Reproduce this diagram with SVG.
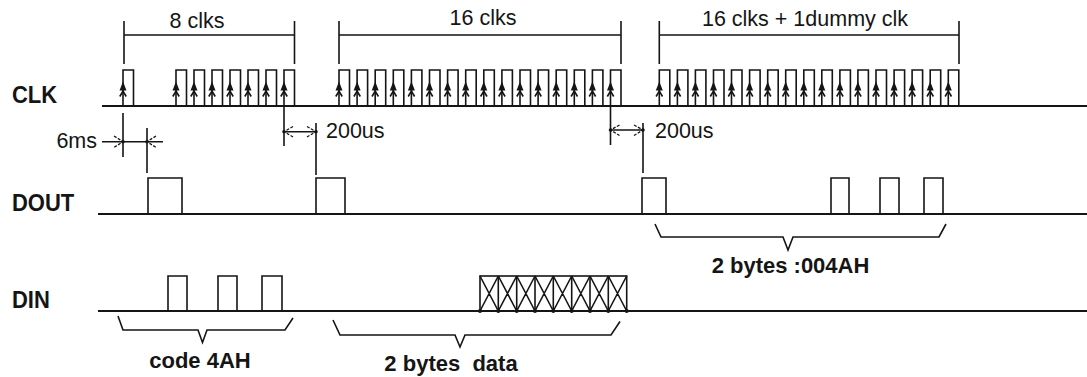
<svg xmlns="http://www.w3.org/2000/svg" xmlns:xlink="http://www.w3.org/1999/xlink" width="1087" height="377" viewBox="0 0 1087 377">
<style>
.ln{stroke:#151515;fill:none;stroke-width:1.6}
.base{stroke:#151515;fill:none;stroke-width:2}
.dash{stroke:#151515;fill:none;stroke-width:1.3;stroke-dasharray:3 1.5}
.t{font-family:"Liberation Sans",Arial,sans-serif;font-size:21.5px;fill:#151515}
.b{font-family:"Liberation Sans",Arial,sans-serif;font-size:22px;font-weight:bold;fill:#151515}
.dot{fill:#151515}
</style>
<defs>
<g id="clk">
<path class="ln" d="M0,36 V0 H10.5 V36"/>
<path d="M0,11.5 L-3.5,20.5 L3.5,20.5 Z" fill="#151515"/>
<path class="ln" stroke-width="1.3" d="M-3.2,26.5 L0,21 L3.2,26.5"/>
</g>
</defs>
<rect width="1087" height="377" fill="#ffffff"/>

<g id="labels">
<text class="b" x="12" y="103" transform="translate(12,103) scale(1,1.1) translate(-12,-103)">CLK</text>
<text class="b" x="12" y="211" transform="translate(12,211) scale(1,1.1) translate(-12,-211)">DOUT</text>
<text class="b" x="12" y="308" transform="translate(12,308) scale(1,1.1) translate(-12,-308)">DIN</text>
</g>

<g id="clk-signal">
<line class="base" x1="102" y1="106" x2="1087" y2="106"/>
<use xlink:href="#clk" x="123" y="70"/>
<use xlink:href="#clk" x="176" y="70"/>
<use xlink:href="#clk" x="194" y="70"/>
<use xlink:href="#clk" x="212" y="70"/>
<use xlink:href="#clk" x="230" y="70"/>
<use xlink:href="#clk" x="248" y="70"/>
<use xlink:href="#clk" x="266" y="70"/>
<use xlink:href="#clk" x="284" y="70"/>
<use xlink:href="#clk" x="339" y="70"/>
<use xlink:href="#clk" x="357.1" y="70"/>
<use xlink:href="#clk" x="375.2" y="70"/>
<use xlink:href="#clk" x="393.3" y="70"/>
<use xlink:href="#clk" x="411.4" y="70"/>
<use xlink:href="#clk" x="429.5" y="70"/>
<use xlink:href="#clk" x="447.6" y="70"/>
<use xlink:href="#clk" x="465.7" y="70"/>
<use xlink:href="#clk" x="483.8" y="70"/>
<use xlink:href="#clk" x="501.9" y="70"/>
<use xlink:href="#clk" x="520" y="70"/>
<use xlink:href="#clk" x="538.1" y="70"/>
<use xlink:href="#clk" x="556.2" y="70"/>
<use xlink:href="#clk" x="574.3" y="70"/>
<use xlink:href="#clk" x="592.4" y="70"/>
<use xlink:href="#clk" x="610.5" y="70"/>
<use xlink:href="#clk" x="659.3" y="70"/>
<use xlink:href="#clk" x="677.4" y="70"/>
<use xlink:href="#clk" x="695.4" y="70"/>
<use xlink:href="#clk" x="713.5" y="70"/>
<use xlink:href="#clk" x="731.5" y="70"/>
<use xlink:href="#clk" x="749.6" y="70"/>
<use xlink:href="#clk" x="767.7" y="70"/>
<use xlink:href="#clk" x="785.7" y="70"/>
<use xlink:href="#clk" x="803.8" y="70"/>
<use xlink:href="#clk" x="821.8" y="70"/>
<use xlink:href="#clk" x="839.9" y="70"/>
<use xlink:href="#clk" x="857.9" y="70"/>
<use xlink:href="#clk" x="876" y="70"/>
<use xlink:href="#clk" x="894.1" y="70"/>
<use xlink:href="#clk" x="912.1" y="70"/>
<use xlink:href="#clk" x="930.2" y="70"/>
<use xlink:href="#clk" x="948.3" y="70"/>
</g>

<g id="dout-signal">
<line class="base" x1="98" y1="214" x2="1087" y2="214"/>
<path class="ln" d="M148,214 V178 H182 V214"/>
<path class="ln" d="M316,214 V178 H345 V214"/>
<path class="ln" d="M642,214 V178 H666 V214"/>
<path class="ln" d="M831,214 V178 H849 V214"/>
<path class="ln" d="M880,214 V178 H899 V214"/>
<path class="ln" d="M924,214 V178 H943 V214"/>
</g>

<g id="din-signal">
<line class="base" x1="98" y1="311" x2="1087" y2="311"/>
<path class="ln" d="M168,311 V276 H187 V311"/>
<path class="ln" d="M218,311 V276 H237 V311"/>
<path class="ln" d="M262,311 V276 H282 V311"/>
<g id="data-box">
<rect class="ln" x="480" y="276" width="146.7" height="35"/>
<path class="ln" stroke-width="1.2" d="M498.3,276 V311 M516.7,276 V311 M535,276 V311 M553.3,276 V311 M571.7,276 V311 M590,276 V311 M608.3,276 V311"/>
<path class="ln" stroke-width="1.2" d="M480,276 L498.3,311 M480,311 L498.3,276 M498.3,276 L516.7,311 M498.3,311 L516.7,276 M516.7,276 L535,311 M516.7,311 L535,276 M535,276 L553.3,311 M535,311 L553.3,276 M553.3,276 L571.7,311 M553.3,311 L571.7,276 M571.7,276 L590,311 M571.7,311 L590,276 M590,276 L608.3,311 M590,311 L608.3,276 M608.3,276 L626.7,311 M608.3,311 L626.7,276"/>
<g class="dot">
<circle cx="480" cy="311" r="2"/><circle cx="498.3" cy="311" r="2"/><circle cx="516.7" cy="311" r="2"/><circle cx="535" cy="311" r="2"/><circle cx="553.3" cy="311" r="2"/><circle cx="571.7" cy="311" r="2"/><circle cx="590" cy="311" r="2"/><circle cx="608.3" cy="311" r="2"/><circle cx="626.7" cy="311" r="2"/>
</g>
</g>
</g>

<g id="top-brackets">
<path class="ln" d="M124,21 V64 M294.5,21 V64 M124,35 H294.5"/>
<text class="t" x="197" y="28" text-anchor="middle">8 clks</text>
<path class="ln" d="M339,21 V64 M621,21 V64 M339,35 H621"/>
<text class="t" x="483" y="25" text-anchor="middle">16 clks</text>
<path class="ln" d="M659.3,21 V64 M959,21 V64 M659.3,35 H959"/>
<text class="t" x="805" y="25.5" text-anchor="middle">16 clks + 1dummy clk</text>
</g>

<g id="dim-6ms">
<path class="ln" d="M123,113 V157 M147,128 V173 M102,141.7 H163"/>
<path class="dash" d="M114,136 L123,141.7 L114,147.4 M156,136 L147,141.7 L156,147.4"/>
<circle class="dot" cx="123" cy="141.7" r="1.8"/>
<circle class="dot" cx="147" cy="141.7" r="1.8"/>
<text class="t" x="97" y="148" text-anchor="end">6ms</text>
</g>

<g id="dim-200us-1">
<path class="ln" d="M284,106 V146 M316,123 V175 M284,131.7 H316"/>
<path class="dash" d="M293,126.5 L284,131.7 L293,137 M307,126.5 L316,131.7 L307,137"/>
<circle class="dot" cx="284" cy="131.7" r="1.8"/>
<circle class="dot" cx="316" cy="131.7" r="1.8"/>
<text class="t" x="326" y="138">200us</text>
</g>

<g id="dim-200us-2">
<path class="ln" d="M610.5,106 V145 M643,123 V173 M610.5,130 H643"/>
<path class="dash" d="M619.5,125 L610.5,130 L619.5,135.5 M634,125 L643,130 L634,135.5"/>
<circle class="dot" cx="610.5" cy="130" r="1.8"/>
<circle class="dot" cx="643" cy="130" r="1.8"/>
<text class="t" x="655" y="138">200us</text>
</g>

<g id="braces">
<path class="ln" d="M655,224 L661,237 H783 L788,250 L793,237 H939 L946,224"/>
<text class="b" x="790.5" y="273" text-anchor="middle">2 bytes :004AH</text>
<path class="ln" d="M118,316 L123,330 H198 L202.5,342.5 L207,330 H285 L293,318"/>
<text class="b" x="200" y="368" text-anchor="middle">code 4AH</text>
<path class="ln" d="M333,320 L340,335 H455 L460,347 L465,335 H611 L620,321.5"/>
<text class="b" x="451" y="371" text-anchor="middle" xml:space="preserve">2 bytes  data</text>
</g>
</svg>
